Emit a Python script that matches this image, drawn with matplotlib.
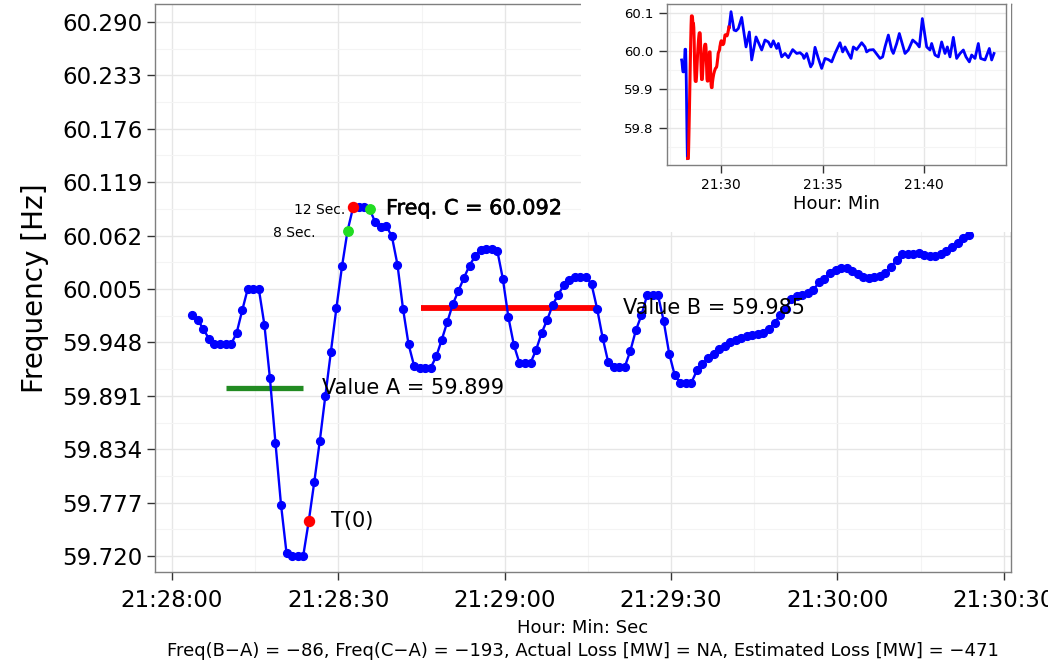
import numpy as np
import matplotlib
matplotlib.use("Agg")
from matplotlib import pyplot as plt
from matplotlib.patches import Rectangle
import matplotlib.patheffects as pe

# main trace, 1 sample per second starting 21:28:03.66
start_sec = 3.66
freq = [59.977, 59.972, 59.962, 59.952, 59.946, 59.946, 59.946, 59.946, 59.958, 59.982,
        60.005, 60.005, 60.005, 59.967, 59.910, 59.841, 59.775, 59.723, 59.720, 59.720,
        59.720, 59.757, 59.799, 59.843, 59.891, 59.938, 59.985, 60.029, 60.067, 60.092,
        60.092, 60.092, 60.090, 60.076, 60.071, 60.072, 60.061, 60.031, 59.984, 59.946,
        59.923, 59.921, 59.921, 59.921, 59.933, 59.951, 59.970, 59.989, 60.003, 60.017,
        60.030, 60.040, 60.047, 60.048, 60.048, 60.046, 60.016, 59.975, 59.945, 59.926,
        59.926, 59.926, 59.940, 59.958, 59.972, 59.988, 59.999, 60.009, 60.015, 60.018,
        60.018, 60.018, 60.010, 59.984, 59.953, 59.927, 59.922, 59.922, 59.922, 59.939,
        59.961, 59.977, 59.998, 59.998, 59.998, 59.971, 59.936, 59.913, 59.905, 59.905,
        59.905, 59.918, 59.925, 59.931, 59.936, 59.941, 59.944, 59.948, 59.950, 59.953,
        59.955, 59.956, 59.957, 59.958, 59.962, 59.969, 59.977, 59.984, 59.994, 59.997,
        59.999, 60.001, 60.004, 60.012, 60.016, 60.022, 60.025, 60.027, 60.027, 60.024,
        60.021, 60.018, 60.017, 60.018, 60.019, 60.022, 60.028, 60.036, 60.042, 60.042,
        60.042, 60.043, 60.041, 60.040, 60.040, 60.042, 60.045, 60.050, 60.054, 60.059,
        60.063]
sec = start_sec + np.arange(len(freq))

t0_idx = 21        # T(0)
c_idx = 29         # Freq. C point
green_idx = [28, 32]
red_from = 18      # start of red part in inset

value_a = 59.899
value_a_span = [9.7, 23.6]
value_b = 59.985
value_b_span = [44.9, 76.6]
freq_c = 60.092

# inset trace after the main window (seconds after 21:28:00)
inset_sec = [143.6, 149.5, 158.4, 164.3, 171.1, 181.0, 193.8, 203.6, 210.5, 223.3,
             240.0, 249.8, 259.7, 267.5, 274.4, 284.3, 289.2, 299.0, 308.9, 318.7,
             331.5, 343.3, 353.1, 361.0, 364.9, 372.8, 384.6, 390.5, 397.4, 407.2,
             417.0, 426.9, 436.7, 446.6, 456.4, 471.1, 479.0, 485.9, 495.7, 503.6,
             510.5, 520.3, 535.1, 544.9, 549.8, 557.7, 569.5, 589.2, 597.0, 603.9,
             613.8, 623.6, 628.5, 638.4, 646.2, 663.0, 672.8, 685.6, 697.4, 705.2,
             714.1, 726.9, 736.7, 741.6, 751.5, 761.3, 771.1, 781.0, 787.9, 795.7,
             805.6, 815.4, 825.3, 835.1, 843.0, 852.8, 859.7, 869.5, 879.3, 886.2,
             899.0, 911.8, 918.7, 925.6]
inset_freq = [60.059, 60.103, 60.055, 60.053, 60.059, 60.088, 60.011, 60.050, 59.977, 60.037,
              60.003, 60.029, 60.024, 60.011, 60.027, 60.007, 60.020, 59.985, 59.994, 59.983,
              60.004, 59.994, 59.996, 59.990, 59.981, 59.994, 59.959, 59.968, 60.010, 59.981,
              59.955, 59.981, 59.978, 59.972, 59.994, 60.022, 59.998, 60.011, 59.994, 59.981,
              60.011, 60.004, 60.022, 60.011, 59.998, 60.003, 60.004, 59.981, 59.985, 60.011,
              60.042, 60.003, 59.994, 60.020, 60.046, 59.994, 60.003, 60.029, 60.020, 60.011,
              60.085, 60.011, 60.003, 60.020, 59.990, 59.985, 60.024, 59.994, 60.011, 59.985,
              60.036, 59.981, 59.994, 60.003, 59.985, 59.972, 59.990, 59.981, 60.020, 59.981,
              59.977, 60.007, 59.977, 59.994]

yticks = [59.720, 59.777, 59.834, 59.891, 59.948, 60.005, 60.062, 60.119, 60.176, 60.233, 60.290]
xticks = [0, 30, 60, 90, 120, 150]
xtick_labels = ["21:28:00", "21:28:30", "21:29:00", "21:29:30", "21:30:00", "21:30:30"]
inset_xticks = [120, 420, 720]
inset_xtick_labels = ["21:30", "21:35", "21:40"]
inset_yticks = [59.8, 59.9, 60.0, 60.1]

caption = ("Freq(B\u2212A) = \u221286, Freq(C\u2212A) = \u2212193, "
           "Actual Loss [MW] = NA, Estimated Loss [MW] = \u2212471")

grid_major = "#E6E6E6"
grid_minor = "#F4F4F4"
border = "#7F7F7F"


def style_axes(ax, lsize):
    for s in ax.spines.values():
        s.set_color(border)
        s.set_linewidth(1.0)
    ax.grid(True, which="major", color=grid_major, lw=1.0, zorder=0)
    ax.grid(True, which="minor", color=grid_minor, lw=0.8, zorder=0)
    ax.set_axisbelow(True)
    ax.tick_params(which="major", direction="out", length=6, width=1.0,
                   color="#333333", labelsize=lsize, labelcolor="black")
    ax.tick_params(which="minor", length=0)


fig = plt.figure(figsize=(10.48, 6.70), dpi=100)

ax = fig.add_axes([155 / 1048, 1 - 572 / 670, 856 / 1048, 568 / 670])
ax.plot(sec, freq, color="blue", lw=1.7, marker="o", ms=5.6, zorder=3)

ax.plot(value_a_span, [value_a, value_a], color="#228B22", lw=3.8, solid_capstyle="butt", zorder=2)
ax.plot(value_b_span, [value_b, value_b], color="red", lw=4.2, solid_capstyle="butt", zorder=2)

ax.plot(sec[t0_idx], freq[t0_idx], "o", color="red", ms=7.2, zorder=4)
ax.plot(sec[c_idx], freq[c_idx], "o", color="red", ms=7.2, zorder=4)
for i in green_idx:
    ax.plot(sec[i], freq[i], "o", color="#22DD22", ms=6.8, zorder=4)

ax.text(27.0, value_a, "Value A = %.3f" % value_a, fontsize=15, va="center", ha="left")
ax.text(81.3, value_b, "Value B = %.3f" % value_b, fontsize=15, va="center", ha="left")
ax.text(38.6, freq_c - 0.001, "Freq. C = %.3f" % freq_c, fontsize=15, va="center", ha="left",
        path_effects=[pe.withStroke(linewidth=0.4, foreground="black")])
ax.text(28.7, freq[t0_idx], "T(0)", fontsize=15, va="center", ha="left")
ax.text(31.2, 60.089, "12 Sec.", fontsize=10, va="center", ha="right")
ax.text(25.8, 60.065, "8 Sec.", fontsize=10, va="center", ha="right")

ax.set_xlim(-3.06, 151.3)
ax.set_ylim(59.703, 60.309)
ax.set_xticks(xticks)
ax.set_xticklabels(xtick_labels)
ax.set_xticks([x + 15 for x in xticks[:-1]], minor=True)
ax.set_yticks(yticks)
ax.set_yticklabels(["%.3f" % v for v in yticks])
ax.set_yticks([(a + b) / 2 for a, b in zip(yticks[:-1], yticks[1:])], minor=True)
style_axes(ax, 16.5)
ax.tick_params(axis="x", pad=6)
ax.tick_params(axis="y", pad=3)

fig.text(35 / 1048, 1 - 288 / 670, "Frequency [Hz]", rotation=90, fontsize=20,
         ha="center", va="center")
fig.text(583 / 1048, 1 - 628 / 670, "Hour: Min: Sec", fontsize=13, ha="center", va="center")
fig.text(583 / 1048, 1 - 651 / 670, caption, fontsize=13, ha="center", va="center")

# white backdrop for the inset plot
fig.patches.append(Rectangle((581 / 1048, 1 - 232 / 670), (1011 - 581) / 1048, 232 / 670,
                             transform=fig.transFigure, facecolor="white", edgecolor="none",
                             zorder=1))

ins = fig.add_axes([666.7 / 1048, 1 - 165 / 670, (1006 - 666.7) / 1048, 161 / 670], zorder=2)
ins.plot(sec[:red_from + 1], freq[:red_from + 1], color="blue", lw=2.0)
ins.plot([sec[-1]] + inset_sec, [freq[-1]] + inset_freq, color="blue", lw=2.0)
ins.plot(sec[red_from:], freq[red_from:], color="red", lw=2.2)
ins.set_xlim(-40.3, 961)
ins.set_ylim(59.703, 60.123)
ins.set_xticks(inset_xticks)
ins.set_xticklabels(inset_xtick_labels)
ins.set_xticks([x - 150 for x in inset_xticks] + [870], minor=True)
ins.set_yticks(inset_yticks)
ins.set_yticklabels(["%.1f" % v for v in inset_yticks])
ins.set_yticks([59.75, 59.85, 59.95, 60.05], minor=True)
style_axes(ins, 9.5)
ins.tick_params(axis="x", labelsize=10)
ins.set_xlabel("Hour: Min", fontsize=13, labelpad=2)

fig.savefig("out.png", dpi=100)
